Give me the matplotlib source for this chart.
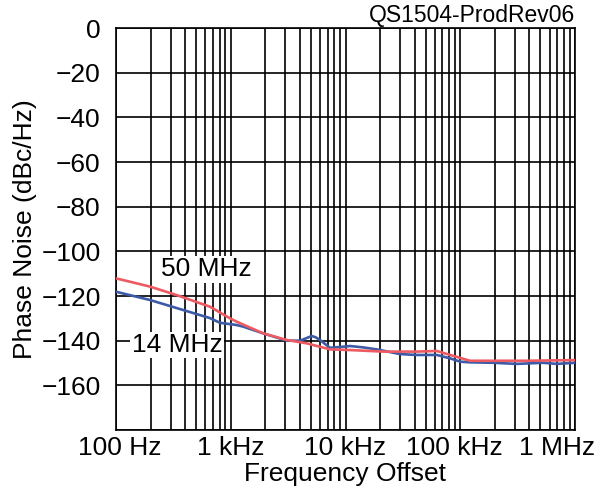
import matplotlib.pyplot as plt
import matplotlib.transforms as mtransforms
import numpy as np

plt.rcParams['font.family'] = ['Liberation Sans', 'DejaVu Sans']

# 50 MHz curve (red)
f50 = [100, 198, 338, 659, 985, 1127, 1910, 3075, 4594, 7328, 10940, 21220,
       41720, 62330, 81450, 121600, 192900, 379200, 1000000]
pn50 = [-112.1, -115.8, -119.6, -124.8, -130.0, -131.5, -136.7, -139.7, -141.2,
        -143.9, -144.2, -144.9, -144.9, -144.6, -146.4, -149.0, -149.0, -149.0, -148.7]

# 14 MHz curve (blue)
f14 = [100, 198, 338, 659, 806, 1127, 1279, 1910, 3075, 4013, 4600, 5075, 5500,
       5993, 7328, 9515, 10940, 14200, 18700, 29850, 41720, 62330, 81450, 99500,
       121600, 192900, 310500, 526000, 693000, 1000000]
pn14 = [-118.1, -121.8, -125.4, -129.9, -132.0, -133.0, -133.7, -136.7, -140.0,
        -140.0, -138.8, -137.9, -138.5, -139.7, -143.2, -142.7, -142.4, -143.0,
        -143.9, -146.0, -146.4, -146.4, -147.9, -149.4, -149.7, -149.9, -150.4,
        -149.9, -150.4, -149.9]

xticks = [100, 1000, 10000, 100000, 1000000]
xlabels = ['100 Hz', '1 kHz', '10 kHz', '100 kHz', '1 MHz']
yticks = [0, -20, -40, -60, -80, -100, -120, -140, -160, -180]
ylabels = ['0', '\u221220', '\u221240', '\u221260', '\u221280', '\u2212100',
           '\u2212120', '\u2212140', '\u2212160', '']

fig = plt.figure(figsize=(6.01, 4.90), dpi=100)
ax = fig.add_axes([116 / 601, 1 - 430 / 490, 459 / 601, 402 / 490])

ax.plot(f14, pn14, color='#3c5aa6', lw=1.9, zorder=3)
ax.plot(f50, pn50, color='#ee5a62', lw=1.9, zorder=4)

ax.set_xscale('log')
ax.set_xlim(100, 1e6)
ax.set_ylim(-180, 0)

# grid: every decade step plus 2..9 within each decade
gx = [m * 10 ** d for d in range(2, 6) for m in range(1, 10)] + [1e6]
for g in gx:
    ax.axvline(g, color='black', lw=1.2, zorder=1)
for g in yticks:
    ax.axhline(g, color='black', lw=1.2, zorder=1)

ax.set_xticks(xticks)
ax.set_xticklabels(xlabels, fontsize=19)
ax.xaxis.set_minor_locator(plt.NullLocator())
ax.set_yticks(yticks)
ax.set_yticklabels(ylabels, fontsize=19)
ax.tick_params(length=0)
ax.tick_params(axis='x', pad=4)
ax.tick_params(axis='y', pad=11)

# nudge a few x labels like in the datasheet
shifts = [4, 0, 0, -6, -18]
for lab, dx in zip(ax.get_xticklabels(), shifts):
    lab.set_transform(lab.get_transform() +
                      mtransforms.ScaledTranslation(dx / 100, 0, fig.dpi_scale_trans))

for s in ax.spines.values():
    s.set_linewidth(1.2)

ax.set_xlabel('Frequency Offset', fontsize=19, labelpad=2)
ax.set_ylabel('Phase Noise (dBc/Hz)', fontsize=19, labelpad=3)
ax.set_title('QS1504-ProdRev06', fontsize=16.5, loc='right', pad=4)

ax.text(610, -108, '50 MHz', fontsize=19, ha='center', va='center', zorder=5,
        bbox=dict(facecolor='white', edgecolor='none', pad=1))
ax.text(340, -142, '14 MHz', fontsize=19, ha='center', va='center', zorder=5,
        bbox=dict(facecolor='white', edgecolor='none', pad=1))

plt.savefig('out.png', dpi=100)
